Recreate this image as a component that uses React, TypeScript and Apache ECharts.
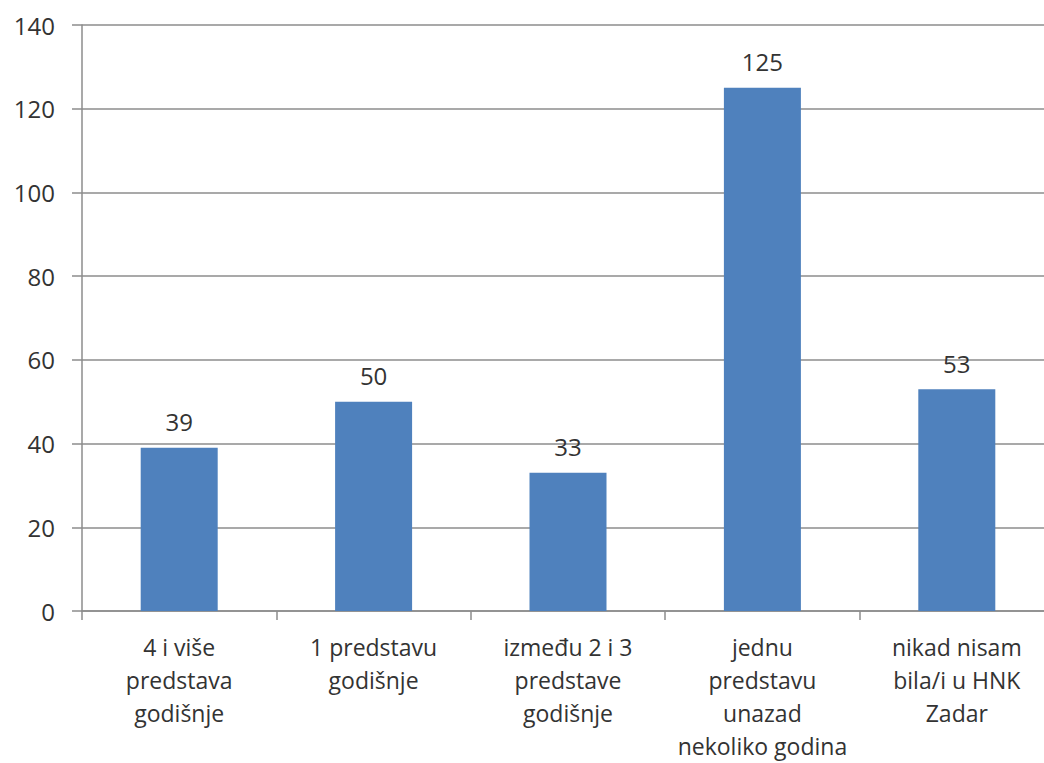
import React, { useEffect, useRef } from "react";
import * as echarts from "echarts";

const categories = [
  "4 i više\npredstava\ngodišnje",
  "1 predstavu\ngodišnje",
  "između 2 i 3\npredstave\ngodišnje",
  "jednu\npredstavu\nunazad\nnekoliko godina",
  "nikad nisam\nbila/i u HNK\nZadar",
];
const values = [39, 50, 33, 125, 53];

const FONT = "'Open Sans', 'Liberation Sans', sans-serif";
const TEXT = "#333333";

export default function App() {
  const ref = useRef<HTMLDivElement>(null);
  useEffect(() => {
    if (!ref.current) return;
    const chart = echarts.init(ref.current, undefined, { renderer: "svg" });
    chart.setOption({
      animation: false,
      backgroundColor: "#ffffff",
      grid: {
        left: 82,
        top: 25,
        bottom: 152,
        right: -10,
        containLabel: false,
        outerBoundsMode: "none",
      },
      xAxis: {
        type: "category",
        data: categories,
        axisLine: { lineStyle: { color: "#8c8c8c", width: 1.5 } },
        axisTick: { show: true, length: 9, lineStyle: { color: "#8c8c8c", width: 1.5 } },
        axisLabel: {
          color: TEXT,
          fontSize: 23,
          fontFamily: FONT,
          lineHeight: 33,
          margin: 19,
          interval: 0,
          align: "center",
        },
      },
      yAxis: {
        type: "value",
        min: 0,
        max: 140,
        interval: 20,
        axisLine: { show: true, lineStyle: { color: "#8c8c8c", width: 1.5 } },
        axisTick: { show: true, length: 10, lineStyle: { color: "#8c8c8c", width: 1.5 } },
        splitLine: { show: true, lineStyle: { color: "#8c8c8c", width: 1.5 } },
        axisLabel: {
          color: TEXT,
          fontSize: 24,
          fontFamily: FONT,
          margin: 27,
        },
      },
      series: [
        {
          type: "bar",
          data: values,
          barWidth: 77,
          itemStyle: { color: "#4f81bd" },
          label: {
            show: true,
            position: "top",
            distance: 14,
            color: TEXT,
            fontSize: 24,
            fontFamily: FONT,
          },
        },
      ],
    });
    return () => chart.dispose();
  }, []);
  return (
    <div
      ref={ref}
      style={{ position: "absolute", left: 0, top: 0, width: 1044, height: 763 }}
    />
  );
}
